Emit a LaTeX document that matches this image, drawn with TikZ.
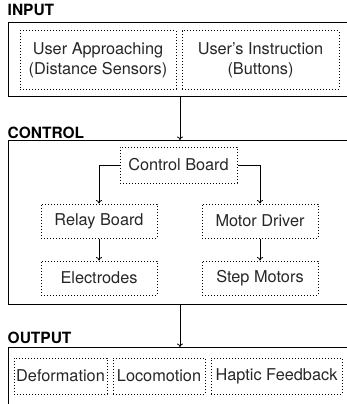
\documentclass[tikz,border=0pt]{standalone}
\usepackage{fontspec}
\setmainfont{TeX Gyre Heros}
\usetikzlibrary{arrows.meta}
\begin{document}
\begin{tikzpicture}[x=1pt,y=-1pt,
  outer/.style={draw=black,line width=0.9pt,anchor=north west,inner sep=0pt},
  inner/.style={draw=black,line width=1pt,dotted,inner sep=0pt,align=center,
    font=\fontsize{16.3}{20}\selectfont,text=black!85},
  lab/.style={anchor=base west,inner sep=0pt,font=\fontsize{15.5}{18}\selectfont\bfseries},
  arr/.style={draw=black,line width=0.8pt,-{To[length=3.5pt,width=6pt]}}]
\useasboundingbox (0,0) rectangle (347,404);
\clip (0,0) rectangle (347,404);
% labels
\node[lab] (linput) at (7.5,16) {INPUT};
\node[lab] (lcontrol) at (7.5,138) {CONTROL};
\node[lab] (loutput) at (7.5,343) {OUTPUT};
% outer boxes
\node[outer,minimum width=360pt,minimum height=74pt] (inbox) at (8,22) {};
\node[outer,minimum width=360pt,minimum height=164pt] (ctrlbox) at (8,140) {};
\node[outer,minimum width=360pt,minimum height=80pt] (outbox) at (8,347) {};
% input
\node[inner,minimum width=156pt,minimum height=58pt] (ua) at (98,60) {User Approaching\\(Distance Sensors)};
\node[inner,minimum width=157pt,minimum height=58pt] (ui) at (260.5,60) {User's Instruction\\(Buttons)};
% control
\node[inner,minimum width=117pt,minimum height=36pt] (cb) at (178.5,165) {Control Board};
\node[inner,minimum width=116pt,minimum height=34pt] (rb) at (99,221) {Relay Board};
\node[inner,minimum width=116pt,minimum height=34pt] (md) at (260,221) {Motor Driver};
\node[inner,minimum width=116pt,minimum height=34pt] (el) at (99,278) {Electrodes};
\node[inner,minimum width=116pt,minimum height=34pt] (sm) at (260,278) {Step Motors};
% output
\node[inner,minimum width=93pt,minimum height=36pt] (de) at (60.5,376) {Deformation};
\node[inner,minimum width=92pt,minimum height=36pt] (lo) at (159,376) {Locomotion};
\node[inner,minimum width=131pt,minimum height=36pt] (hf) at (276.5,376) {Haptic Feedback};
% connectors
\coordinate (mid) at (180,0);
\draw[arr] (inbox.south -| mid) -- (ctrlbox.north -| mid);
\draw[arr] (ctrlbox.south -| mid) -- (outbox.north -| mid);
\draw[arr] (cb.west) -| (rb.north);
\draw[arr] (cb.east) -| (md.north);
\draw[arr] (rb) -- (el);
\draw[arr] (md) -- (sm);
\end{tikzpicture}
\end{document}
